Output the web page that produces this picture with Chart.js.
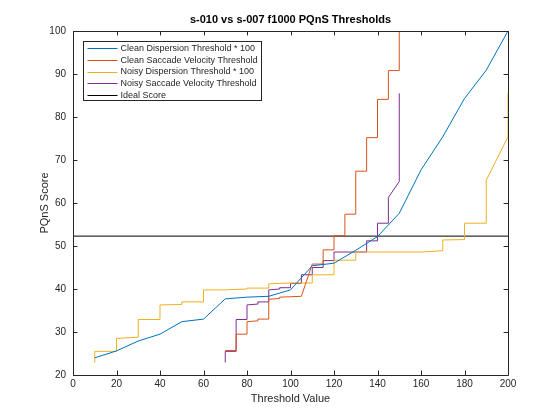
<!DOCTYPE html>
<html>
<head>
  <meta charset="utf-8">
  <script src="https://cdn.jsdelivr.net/npm/chart.js@4.4.0/dist/chart.umd.min.js"></script>
  <style>
    html, body { margin: 0; padding: 0; background: #fff; }
  </style>
</head>
<body>
  <canvas id="myChart" width="560" height="420"></canvas>
  <script>
  const chartTitle = 's-010 vs s-007 f1000 PQnS Thresholds';
  const seriesNames = ['Clean Dispersion Threshold * 100', 'Clean Saccade Velocity Threshold',
    'Noisy Dispersion Threshold * 100', 'Noisy Saccade Velocity Threshold', 'Ideal Score'];
  const seriesColors = ['#0072BD', '#D95319', '#EDB120', '#7E2F8E', '#000000'];

  // dispersion thresholds (x) and scores
  const cleanDispX = [10, 20, 30, 40, 50, 60, 70, 80, 90, 100, 110, 120, 130, 140, 150, 160, 170, 180, 190, 200];
  const cleanDispY = [24.0, 25.6, 27.9, 29.5, 32.4, 33.0, 37.7, 38.1, 38.3, 39.8, 45.4, 46.0, 49.0, 52.2, 57.6, 67.7, 75.4, 84.3, 90.9, 100];

  const noisyDispX = [10, 10, 20, 20, 30, 30, 40, 40, 50, 50, 60, 60, 70, 80, 80, 90, 90, 100, 110, 110, 120, 120, 130, 130, 160, 170, 170, 180, 180, 190, 190, 200, 200];
  const noisyDispY = [22.9, 25.5, 25.5, 28.5, 28.8, 32.9, 32.9, 36.3, 36.4, 37.0, 37.0, 39.8, 39.8, 40.0, 40.2, 40.2, 41.2, 41.4, 41.4, 43.3, 43.3, 46.7, 46.7, 48.6, 48.6, 48.9, 51.4, 51.5, 55.3, 55.3, 65.3, 75.4, 85.5];

  // saccade velocity thresholds (x) and scores
  const cleanSaccX = [70, 75, 75, 80, 80, 85, 85, 90, 90, 95, 95, 100, 105, 110, 115, 115, 120, 120, 125, 125, 130, 130, 135, 135, 140, 140, 145, 145, 150, 150];
  const cleanSaccY = [25.7, 25.7, 29.5, 29.5, 32.4, 32.6, 33.0, 33.0, 37.6, 37.8, 38.1, 38.2, 38.3, 45.8, 45.8, 49.1, 49.1, 52.4, 52.4, 57.4, 57.4, 67.4, 67.4, 75.2, 75.2, 84.1, 84.1, 90.8, 90.8, 100];

  const noisySaccX = [70, 70, 75, 75, 80, 80, 85, 85, 90, 90, 95, 95, 100, 100, 105, 105, 110, 110, 115, 115, 120, 120, 135, 135, 140, 140, 145, 145, 150, 150];
  const noisySaccY = [22.9, 25.5, 25.5, 32.9, 32.9, 36.3, 36.5, 37.0, 37.0, 39.8, 40.0, 40.3, 40.3, 41.3, 41.3, 43.3, 43.3, 45.0, 45.0, 46.6, 46.6, 48.6, 48.6, 51.2, 51.2, 55.3, 55.3, 61.3, 65.0, 85.5];

  const idealX = [0, 200];
  const idealY = [52.3, 52.3];

  const xTicks = [0, 20, 40, 60, 80, 100, 120, 140, 160, 180, 200];
  const yTicks = [20, 30, 40, 50, 60, 70, 80, 90, 100];

  const axisColor = '#262626';
  const fontFamily = '"Liberation Sans", Arial, Helvetica, sans-serif';

  function pts(xs, ys) {
    return xs.map((x, i) => ({ x: x, y: ys[i] }));
  }

  const allX = [cleanDispX, cleanSaccX, noisyDispX, noisySaccX, idealX];
  const allY = [cleanDispY, cleanSaccY, noisyDispY, noisySaccY, idealY];

  const datasets = seriesNames.map((name, i) => ({
    label: name,
    data: pts(allX[i], allY[i]),
    borderColor: seriesColors[i],
    backgroundColor: seriesColors[i],
    borderWidth: 1,
    showLine: true,
    pointRadius: 0,
    tension: 0
  }));

  // box round the axes with inward tick marks, like the original figure
  const boxPlugin = {
    id: 'box',
    afterDatasetsDraw(chart) {
      const { ctx, chartArea: a, scales: { x, y } } = chart;
      const tl = 4.4;
      ctx.save();
      ctx.strokeStyle = axisColor;
      ctx.lineWidth = 1;
      ctx.beginPath();
      ctx.rect(Math.round(a.left) + 0.5, Math.round(a.top) + 0.5, Math.round(a.width), Math.round(a.height));
      xTicks.forEach(v => {
        const px = Math.round(x.getPixelForValue(v)) + 0.5;
        ctx.moveTo(px, a.bottom); ctx.lineTo(px, a.bottom - tl);
        ctx.moveTo(px, a.top); ctx.lineTo(px, a.top + tl);
      });
      yTicks.forEach(v => {
        const py = Math.round(y.getPixelForValue(v)) + 0.5;
        ctx.moveTo(a.left, py); ctx.lineTo(a.left + tl, py);
        ctx.moveTo(a.right, py); ctx.lineTo(a.right - tl, py);
      });
      ctx.stroke();

      // title
      ctx.fillStyle = '#000';
      ctx.font = 'bold 11px ' + fontFamily;
      ctx.textAlign = 'center';
      ctx.textBaseline = 'middle';
      ctx.fillText(chartTitle, (a.left + a.right) / 2, a.top - 11);

      // legend inside the axes, top left
      ctx.font = '9px ' + fontFamily;
      const lx = 83.5, ly = 41.5, lw = 178, rowH = 11.6;
      ctx.fillStyle = '#fff';
      ctx.fillRect(lx, ly, lw, rowH * seriesNames.length + 1);
      ctx.strokeStyle = axisColor;
      ctx.strokeRect(lx, ly, lw, rowH * seriesNames.length + 1);
      ctx.textAlign = 'left';
      seriesNames.forEach((name, i) => {
        const cy = ly + 6.8 + i * rowH;
        ctx.strokeStyle = seriesColors[i];
        ctx.beginPath();
        ctx.moveTo(lx + 4, Math.round(cy) + 0.5);
        ctx.lineTo(lx + 34, Math.round(cy) + 0.5);
        ctx.stroke();
        ctx.fillStyle = axisColor;
        ctx.fillText(name, lx + 37, cy + 0.5);
      });
      ctx.restore();
    }
  };

  const ctx = document.getElementById('myChart').getContext('2d');
  const myChart = new Chart(ctx, {
    type: 'scatter',
    data: { datasets: datasets },
    options: {
      responsive: false,
      animation: false,
      layout: { padding: { top: 31, right: 52, left: 0, bottom: 0 } },
      plugins: {
        legend: { display: false },
        tooltip: { enabled: false }
      },
      scales: {
        x: {
          type: 'linear',
          min: 0,
          max: 200,
          afterFit: s => { s.height = 45; },
          afterBuildTicks: s => { s.ticks = xTicks.map(v => ({ value: v })); },
          grid: { display: false, drawTicks: false },
          border: { display: false },
          ticks: { color: axisColor, padding: 3, maxRotation: 0, font: { family: fontFamily, size: 10 } },
          title: {
            display: true,
            text: 'Threshold Value',
            color: axisColor,
            padding: { top: 0, bottom: 14 },
            font: { family: fontFamily, size: 11 }
          }
        },
        y: {
          type: 'linear',
          min: 20,
          max: 100,
          afterFit: s => { s.width = 73; },
          afterBuildTicks: s => { s.ticks = yTicks.map(v => ({ value: v })); },
          grid: { display: false, drawTicks: false },
          border: { display: false },
          ticks: { color: axisColor, padding: 7, font: { family: fontFamily, size: 10 } },
          title: {
            display: true,
            text: 'PQnS Score',
            color: axisColor,
            padding: { top: 38, bottom: 0 },
            font: { family: fontFamily, size: 11 }
          }
        }
      }
    },
    plugins: [boxPlugin]
  });
  </script>
</body>
</html>
